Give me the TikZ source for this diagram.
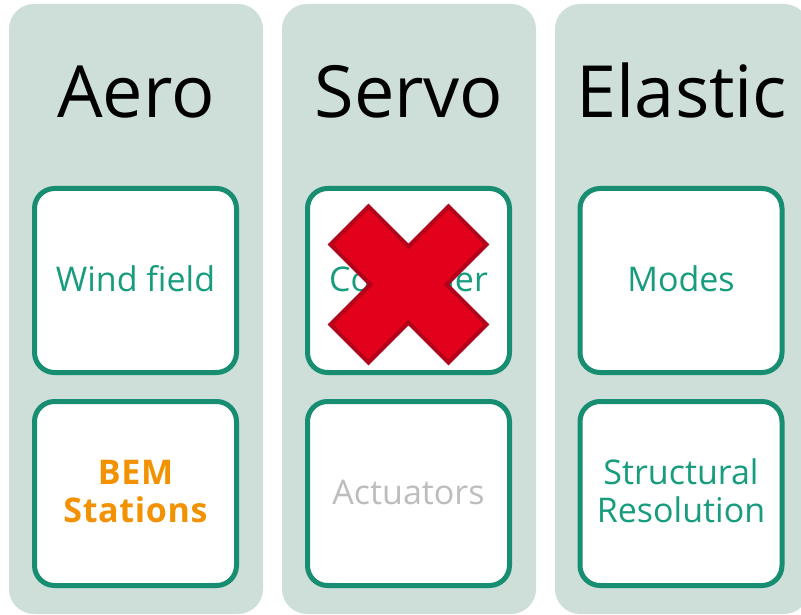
\documentclass[tikz,border=0pt]{standalone}
\usepackage{fontspec}
\setmainfont{Open Sans}
\definecolor{colbg}{HTML}{CDDFD8}
\definecolor{fgreen}{HTML}{179C7D}
\definecolor{fborder}{HTML}{178E71}
\definecolor{forange}{HTML}{F39200}
\definecolor{fgray}{HTML}{BDBDBD}
\definecolor{xred}{HTML}{E2001A}
\definecolor{xdark}{HTML}{B3001B}

\begin{document}
\begin{tikzpicture}[x=1pt,y=-1pt,
  column/.style={fill=colbg, rounded corners=25pt},
  item/.style={draw=fborder, line width=5pt, fill=white, rounded corners=20pt,
    minimum width=202pt, minimum height=184pt, inner sep=0pt},
  lbl/.style={font=\fontsize{34}{38}\selectfont, align=center, text=fgreen,
    inner sep=0pt, anchor=base},
  title/.style={font=\fontsize{72}{72}\selectfont, anchor=base, inner sep=0pt}]

\useasboundingbox (0,0) rectangle (801,615);

% column backgrounds
\fill[column] (9,4) rectangle (263,614);
\fill[column] (282,4) rectangle (536,614);
\fill[column] (555,4) rectangle (809,614);

% column titles
\node[title] (aero)    at (136,118) {Aero};
\node[title] (servo)   at (409,118) {Servo};
\node[title] (elastic) at (682,118) {Elastic};

% module boxes
\node[item] (wind)   at (135.5,280.5) {};
\node[item] (bem)    at (135.5,493.5) {};
\node[item] (ctrl)   at (408.5,280.5) {};
\node[item] (act)    at (408.5,493.5) {};
\node[item] (modes)  at (681,280.5) {};
\node[item] (struct) at (681,493.5) {};

% module labels (two-line labels sit on the baseline of their last line)
\node[lbl] (windtxt)  at (135.5,291) {Wind field};
\node[lbl, text=forange, font=\fontsize{34}{38}\bfseries\addfontfeature{LetterSpace=2}] (bemtxt) at (135.5,522) {BEM\\Stations};
\node[lbl] (ctrltxt)  at (408.5,291) {Controller};
\node[lbl, text=fgray] (acttxt) at (408.5,504) {Actuators};
\node[lbl] (modestxt) at (681,291) {Modes};
\node[lbl] (structtxt) at (681,522) {Structural\\Resolution};

% red cross over the controller
\filldraw[fill=xred, draw=xdark, line width=4pt, line join=miter, shift={(408.5,284.5)}]
  (-40,-78) -- (0,-38) -- (40,-78) -- (78,-40) -- (38,0) -- (78,40) -- (40,78)
  -- (0,38) -- (-40,78) -- (-78,40) -- (-38,0) -- (-78,-40) -- cycle;
\end{tikzpicture}
\end{document}
